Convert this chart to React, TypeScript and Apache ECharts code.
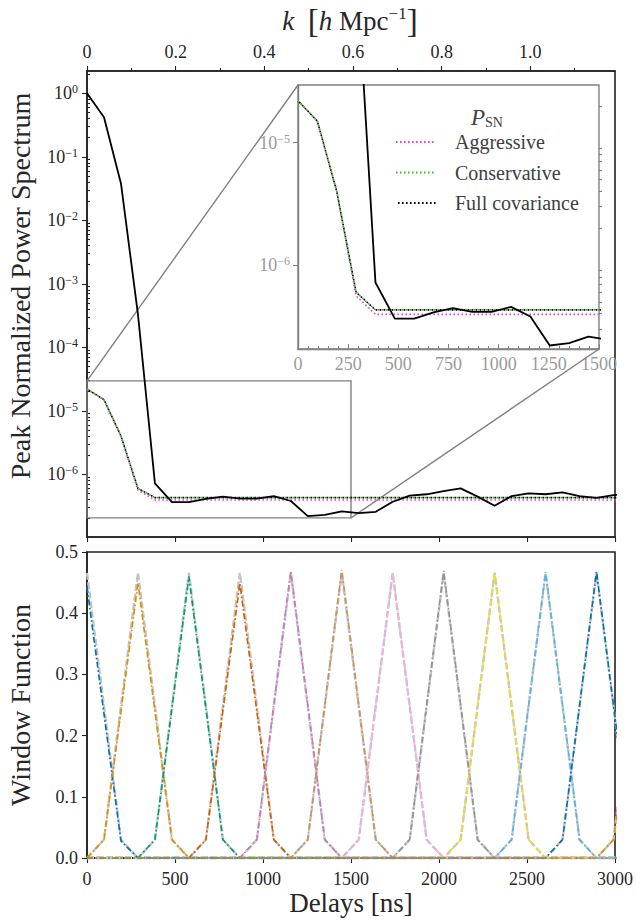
import React, { useEffect, useRef } from "react";
import * as echarts from "echarts";

const FONT = "Liberation Serif, DejaVu Serif, serif";
const TXT = "#262626";
const AX = "#222222";
const INSET = "#808080";
const INSET_TXT = "#9a9a9a";

// delay samples [ns]
const delays = [0, 96.5, 193, 289.5, 386, 482.5, 579, 675.5, 772, 868.5, 965, 1061.5, 1158, 1254.5, 1351, 1447.5, 1544, 1640.5, 1737, 1833.5, 1930, 2026.5, 2123, 2219.5, 2316, 2412.5, 2509, 2605.5, 2702, 2798.5, 2895, 2991.5, 3088, 3184.5];

// peak-normalised power spectrum (solid black)
const peakNormalized = [1.0, 0.42, 0.038, 3.3e-4, 7.2e-7, 3.65e-7, 3.65e-7, 4.1e-7, 4.45e-7, 4.15e-7, 4.15e-7, 4.55e-7, 3.8e-7, 2.2e-7, 2.3e-7, 2.6e-7, 2.45e-7, 2.57e-7, 3.7e-7, 4.6e-7, 4.85e-7, 5.45e-7, 6.0e-7, 4.45e-7, 3.2e-7, 4.55e-7, 5.0e-7, 4.85e-7, 5.2e-7, 4.55e-7, 4.27e-7, 4.7e-7, 4.9e-7, 4.9e-7];

// P_SN curves (dotted)
const aggressive = [2.2e-5, 1.5e-5, 4.0e-6, 5.6e-7, 3.95e-7, 3.95e-7, 3.95e-7, 3.95e-7, 3.95e-7, 3.95e-7, 3.95e-7, 3.95e-7, 3.95e-7, 3.95e-7, 3.95e-7, 3.95e-7, 3.95e-7, 3.95e-7, 3.95e-7, 3.95e-7, 3.95e-7, 3.95e-7, 3.95e-7, 3.95e-7, 3.95e-7, 3.95e-7, 3.95e-7, 3.95e-7, 3.95e-7, 3.95e-7, 3.95e-7, 3.95e-7, 3.95e-7, 3.95e-7];
const conservative = [2.2e-5, 1.5e-5, 4.0e-6, 6.0e-7, 4.3e-7, 4.3e-7, 4.3e-7, 4.3e-7, 4.3e-7, 4.3e-7, 4.3e-7, 4.3e-7, 4.3e-7, 4.3e-7, 4.3e-7, 4.3e-7, 4.3e-7, 4.3e-7, 4.3e-7, 4.3e-7, 4.3e-7, 4.3e-7, 4.3e-7, 4.3e-7, 4.3e-7, 4.3e-7, 4.3e-7, 4.3e-7, 4.3e-7, 4.3e-7, 4.3e-7, 4.3e-7, 4.3e-7, 4.3e-7];
const fullCovariance = [2.2e-5, 1.5e-5, 4.0e-6, 6.0e-7, 4.3e-7, 4.3e-7, 4.3e-7, 4.3e-7, 4.3e-7, 4.3e-7, 4.3e-7, 4.3e-7, 4.3e-7, 4.3e-7, 4.3e-7, 4.3e-7, 4.3e-7, 4.3e-7, 4.3e-7, 4.3e-7, 4.3e-7, 4.3e-7, 4.3e-7, 4.3e-7, 4.3e-7, 4.3e-7, 4.3e-7, 4.3e-7, 4.3e-7, 4.3e-7, 4.3e-7, 4.3e-7, 4.3e-7, 4.3e-7];

// window functions: centre (sample index), peak, value 1 and 2 samples away
const windowCenters = [0, 3, 6, 9, 12, 15, 18, 21, 24, 27, 30, 33];
const windowColors = ["#0173b2", "#de8f05", "#029e73", "#d55e00", "#cc78bc", "#ca9161", "#fbafe4", "#949494", "#ece133", "#56b4e9", "#0173b2", "#de8f05"];
const windowPeaks = [0.443, 0.449, 0.46, 0.449, 0.469, 0.471, 0.467, 0.469, 0.467, 0.467, 0.468, 0.466];
const windowNear = [0.236, 0.24, 0.245, 0.24, 0.25, 0.25, 0.249, 0.25, 0.249, 0.249, 0.249, 0.248];
const windowFar = [0.028, 0.03, 0.03, 0.03, 0.03, 0.03, 0.03, 0.03, 0.03, 0.03, 0.03, 0.03];
const refPeaks = [0.466, 0.466, 0.466, 0.466, 0.466, 0.466, 0.466, 0.466, 0.466, 0.466, 0.466, 0.466];
const refNear = [0.248, 0.248, 0.248, 0.248, 0.248, 0.248, 0.248, 0.248, 0.248, 0.248, 0.248, 0.248];
const refFar = [0.03, 0.03, 0.03, 0.03, 0.03, 0.03, 0.03, 0.03, 0.03, 0.03, 0.03, 0.03];

// axes
const kMajor = [0, 0.2, 0.4, 0.6, 0.8, 1.0];
const kMinor = [0.1, 0.3, 0.5, 0.7, 0.9, 1.1];
const kAtMaxDelay = 1.191;
const mainDecades = [1e-6, 1e-5, 1e-4, 1e-3, 1e-2, 1e-1, 1];
const insetDecades = [1e-6, 1e-5];
const zoomDelay = [0, 1500];
const zoomPower = [2.06e-7, 2.96e-5];
const legendNames = ["Aggressive", "Conservative", "Full covariance"];

function minorLogTicks(lo: number, hi: number) {
  const out: number[] = [];
  for (let e = -8; e <= 1; e++) {
    for (let m = 2; m <= 9; m++) {
      const v = m * Math.pow(10, e);
      if (v > lo && v < hi) out.push(v);
    }
  }
  return out;
}

function pow10Label(v: number) {
  const e = Math.round(Math.log10(v));
  return `{b|10}{s|${e === 0 ? "0" : "\u2212" + -e}}`;
}

function powRich(color: string) {
  return {
    b: { fontSize: 18, fontFamily: FONT, color, lineHeight: 20 },
    s: { fontSize: 12, fontFamily: FONT, color, lineHeight: 12, verticalAlign: "top" },
  };
}

function windowData(center: number, peak: number, near: number, far: number) {
  return delays.map((d, i) => {
    const off = Math.abs(i - center);
    const v = off === 0 ? peak : off === 1 ? near : off === 2 ? far : 0;
    return [d, v];
  });
}

const plain = (v: number) => String(v);

export default function App() {
  const ref = useRef<HTMLDivElement>(null);
  useEffect(() => {
    if (!ref.current) return;
    const chart = echarts.init(ref.current, undefined, { renderer: "svg" });

    const pair = (arr: number[]) => delays.map((d, i) => [d, arr[i]]);
    const dotted = (color: string) => ({ color, width: 1.6, type: [1.6, 2.4] as any, cap: "butt" as any });

    const psnSeries = (xi: number, yi: number) => [
      { name: "Aggressive", type: "line", xAxisIndex: xi, yAxisIndex: yi, data: pair(aggressive), symbol: "none", itemStyle: { color: "#f03cf0" }, lineStyle: dotted("#f03cf0"), z: 3 },
      { name: "Conservative", type: "line", xAxisIndex: xi, yAxisIndex: yi, data: pair(conservative), symbol: "none", itemStyle: { color: "#3cbc1e" }, lineStyle: dotted("#3cbc1e"), z: 3 },
      { name: "Full covariance", type: "line", xAxisIndex: xi, yAxisIndex: yi, data: pair(fullCovariance), symbol: "none", itemStyle: { color: "#000" }, lineStyle: { ...dotted("#000000"), dashOffset: 2 }, z: 3 },
      { name: "Peak normalized", type: "line", xAxisIndex: xi, yAxisIndex: yi, data: pair(peakNormalized), symbol: "none", itemStyle: { color: "#000" }, lineStyle: { color: "#000", width: 1.8 }, z: 4 },
    ];

    const windowSeries: any[] = [];
    windowCenters.forEach((c, j) => {
      windowSeries.push({
        name: "ref" + j, type: "line", xAxisIndex: 3, yAxisIndex: 2, symbol: "none",
        data: windowData(c, refPeaks[j], refNear[j], refFar[j]),
        lineStyle: { color: "#c4c4c4", width: 2.4, type: [7, 2.5] },
        z: 2,
      });
    });
    windowCenters.forEach((c, j) => {
      windowSeries.push({
        name: "win" + j, type: "line", xAxisIndex: 3, yAxisIndex: 2, symbol: "none",
        data: windowData(c, windowPeaks[j], windowNear[j], windowFar[j]),
        lineStyle: { color: windowColors[j], width: 1.7, type: [6, 2.5, 1.6, 2.5] },
        z: 3,
      });
    });

    const tickLabel = { fontSize: 18, fontFamily: FONT, color: TXT };
    const axLine = { lineStyle: { color: AX, width: 1.6 } };
    const tick = (len: number, color = AX) => ({ inside: false, length: len, lineStyle: { color, width: 1.1 } });

    const option: any = {
      animation: false,
      textStyle: { fontFamily: FONT },
      grid: [
        { left: 87, top: 71, width: 528, height: 466, show: true, borderColor: AX, borderWidth: 1.6 },
        { left: 87, top: 552, width: 528, height: 306, show: true, borderColor: AX, borderWidth: 1.6 },
        { left: 298, top: 85, width: 301, height: 264, show: true, borderColor: INSET, borderWidth: 1.4, backgroundColor: "#ffffff" },
      ],
      xAxis: [
        { gridIndex: 0, type: "value", position: "bottom", min: 0, max: 3000, interval: 500, axisLine: axLine, axisTick: tick(5), axisLabel: { show: false }, splitLine: { show: false } },
        {
          gridIndex: 0, type: "value", position: "top", min: 0, max: kAtMaxDelay, axisLine: axLine,
          axisTick: { ...tick(5), customValues: kMajor },
          axisLabel: { ...tickLabel, margin: 10, customValues: kMajor, formatter: (v: number) => (v === 0 ? "0" : v.toFixed(1)) },
          splitLine: { show: false },
        },
        { gridIndex: 0, type: "value", position: "top", min: 0, max: kAtMaxDelay, axisLine: { show: false }, axisTick: { ...tick(3), customValues: kMinor }, axisLabel: { show: false }, splitLine: { show: false } },
        { gridIndex: 1, type: "value", position: "bottom", min: 0, max: 3000, interval: 500, axisLine: axLine, axisTick: tick(5), axisLabel: { ...tickLabel, margin: 12, formatter: plain }, splitLine: { show: false } },
        {
          gridIndex: 2, type: "value", position: "bottom", min: zoomDelay[0], max: zoomDelay[1], interval: 250,
          axisLine: { lineStyle: { color: INSET, width: 1.4 } },
          axisTick: { inside: true, length: 5, lineStyle: { color: INSET, width: 1 } },
          minorTick: { show: true, splitNumber: 5, length: 3, lineStyle: { color: INSET, width: 1 } },
          axisLabel: { fontSize: 18, fontFamily: FONT, color: INSET_TXT, margin: 6, formatter: plain },
          splitLine: { show: false },
        },
      ],
      yAxis: [
        {
          gridIndex: 0, type: "log", logBase: 10, min: 1.03e-7, max: 2.24, axisLine: axLine,
          axisTick: { ...tick(5), customValues: mainDecades },
          axisLabel: { customValues: mainDecades, formatter: pow10Label, rich: powRich(TXT), margin: 9 },
          splitLine: { show: false },
        },
        { gridIndex: 0, type: "log", logBase: 10, min: 1.03e-7, max: 2.24, axisLine: { show: false }, axisTick: { ...tick(3), customValues: minorLogTicks(1.03e-7, 2.24) }, axisLabel: { show: false }, splitLine: { show: false } },
        { gridIndex: 1, type: "value", min: 0, max: 0.5, interval: 0.1, axisLine: axLine, axisTick: tick(5), axisLabel: { ...tickLabel, margin: 9, formatter: (v: number) => v.toFixed(1) }, splitLine: { show: false } },
        {
          gridIndex: 2, type: "log", logBase: 10, min: zoomPower[0], max: zoomPower[1],
          axisLine: { lineStyle: { color: INSET, width: 1.4 } },
          axisTick: { ...tick(5, INSET), customValues: insetDecades },
          axisLabel: { customValues: insetDecades, formatter: pow10Label, rich: powRich(INSET_TXT), margin: 8 },
          splitLine: { show: false },
        },
        { gridIndex: 2, type: "log", logBase: 10, min: zoomPower[0], max: zoomPower[1], axisLine: { show: false }, axisTick: { ...tick(3, INSET), customValues: minorLogTicks(zoomPower[0], zoomPower[1]) }, axisLabel: { show: false }, splitLine: { show: false } },
      ],
      legend: {
        data: legendNames, orient: "vertical", left: 395, top: 132, padding: 0,
        itemWidth: 40, itemHeight: 12, itemGap: 10.5,
        itemStyle: { color: "rgba(0,0,0,0)", borderColor: "rgba(0,0,0,0)", borderWidth: 0 },
        textStyle: { fontSize: 20, fontFamily: FONT, color: "#404040", padding: [0, 0, 0, 14] },
      },
      series: [...psnSeries(0, 0), ...windowSeries, ...psnSeries(4, 3)],
    };
    chart.setOption(option);

    const tl = chart.convertToPixel({ xAxisIndex: 0, yAxisIndex: 0 }, [zoomDelay[0], zoomPower[1]]) as number[];
    const br = chart.convertToPixel({ xAxisIndex: 0, yAxisIndex: 0 }, [zoomDelay[1], zoomPower[0]]) as number[];
    const itl = chart.convertToPixel({ xAxisIndex: 4, yAxisIndex: 3 }, [zoomDelay[0], zoomPower[1]]) as number[];
    const ibr = chart.convertToPixel({ xAxisIndex: 4, yAxisIndex: 3 }, [zoomDelay[1], zoomPower[0]]) as number[];

    const titleStyle = (text: string, size: number) => ({ text, fontSize: size, fontFamily: FONT, fill: TXT, align: "center", verticalAlign: "middle", textAlign: "center", textVerticalAlign: "middle" });

    chart.setOption({
      graphic: [
        { type: "rect", silent: true, z: 1, shape: { x: tl[0], y: tl[1], width: br[0] - tl[0], height: br[1] - tl[1] }, style: { fill: "none", stroke: INSET, lineWidth: 1.4 } },
        { type: "line", silent: true, z: 1, shape: { x1: tl[0], y1: tl[1], x2: itl[0], y2: itl[1] }, style: { stroke: INSET, lineWidth: 1.4 } },
        { type: "line", silent: true, z: 1, shape: { x1: br[0], y1: br[1], x2: ibr[0], y2: ibr[1] }, style: { stroke: INSET, lineWidth: 1.4 } },
        { type: "text", x: 20, y: 286, rotation: Math.PI / 2, style: titleStyle("Peak Normalized Power Spectrum", 28) },
        { type: "text", x: 20, y: 705, rotation: Math.PI / 2, style: titleStyle("Window Function", 28) },
        { type: "text", x: 351, y: 903, style: titleStyle("Delays [ns]", 27) },
        {
          type: "text", x: 350, y: 21,
          style: {
            text: "{i|k}{n|  }{br|[}{i|h}{n| Mpc}{s|\u22121}{br|]}", align: "center", verticalAlign: "middle", textAlign: "center", textVerticalAlign: "middle", fill: TXT,
            rich: {
              i: { fontSize: 27, fontFamily: FONT, fontStyle: "italic", fill: TXT, color: TXT, lineHeight: 32 },
              n: { fontSize: 27, fontFamily: FONT, fill: TXT, color: TXT, lineHeight: 32 },
              br: { fontSize: 33, fontFamily: FONT, fill: TXT, color: TXT, lineHeight: 32 },
              s: { fontSize: 17, fontFamily: FONT, fill: TXT, color: TXT, lineHeight: 17, verticalAlign: "top" },
            },
          },
        },
        {
          type: "text", x: 487, y: 117, z: 10,
          style: {
            text: "{p|P}{sub|SN}", align: "center", verticalAlign: "middle", textAlign: "center", textVerticalAlign: "middle", fill: "#404040",
            rich: {
              p: { fontSize: 23, fontFamily: FONT, fontStyle: "italic", fill: "#404040", color: "#404040", lineHeight: 24 },
              sub: { fontSize: 14, fontFamily: FONT, fill: "#404040", color: "#404040", lineHeight: 14, verticalAlign: "bottom" },
            },
          },
        },
      ],
    });

    return () => chart.dispose();
  }, []);
  return <div ref={ref} style={{ position: "absolute", left: 0, top: 0, width: 636, height: 920 }} />;
}
